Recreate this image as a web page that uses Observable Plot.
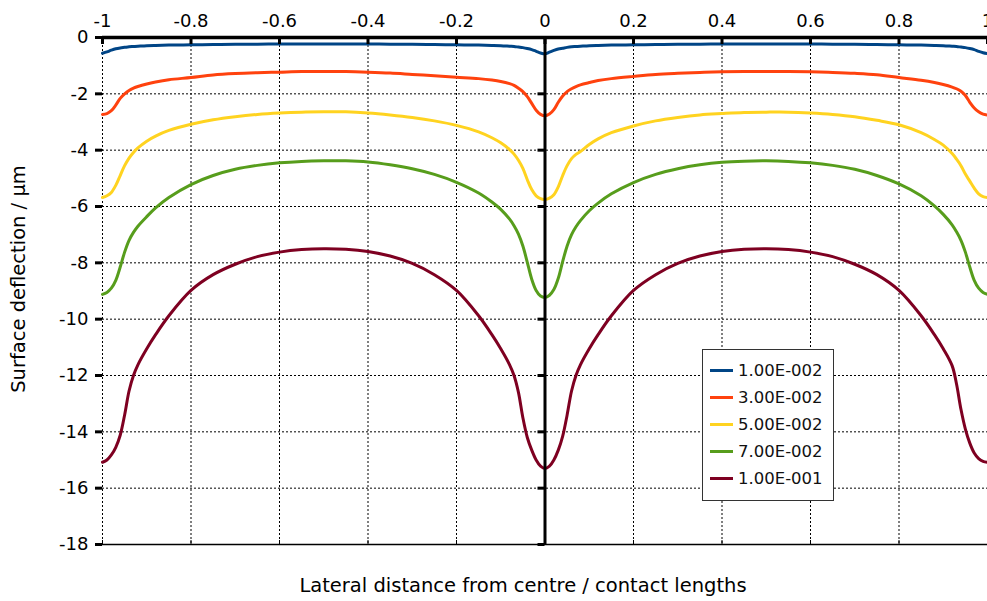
<!DOCTYPE html>
<html>
<head>
<meta charset="utf-8">
<script src="https://cdn.jsdelivr.net/npm/d3@7"></script>
<script src="https://cdn.jsdelivr.net/npm/@observablehq/plot@0.6"></script>
<style>
  body { margin: 0; background: #fff; }
  #wrap { position: relative; width: 987px; height: 601px; font-family: "DejaVu Sans", sans-serif; overflow: hidden; }
  #legend { position: absolute; left: 702px; top: 349px; width: 132px; height: 152px; box-sizing: border-box;
            border: 1.5px solid #333; background: #fff; padding-top: 7px; }
  .row { display: flex; align-items: center; height: 27px; font-size: 16.5px; color: #111; }
  .sw { width: 23px; height: 3px; margin-left: 7px; margin-right: 5px; }
</style>
</head>
<body>
<div id="wrap"></div>
<script>
// ---- data ----
const xs = [-1, -0.99, -0.98, -0.97, -0.96, -0.95, -0.94, -0.93, -0.92, -0.9, -0.88, -0.85, -0.8, -0.75, -0.7, -0.65, -0.6, -0.55, -0.5, -0.45, -0.4, -0.35, -0.3, -0.25, -0.2, -0.15, -0.12, -0.1, -0.08, -0.07, -0.06, -0.05, -0.04, -0.03, -0.02, -0.01, 0,
  0.01, 0.02, 0.03, 0.04, 0.05, 0.06, 0.07, 0.08, 0.1, 0.12, 0.15, 0.2, 0.25, 0.3, 0.35, 0.4, 0.45, 0.5, 0.55, 0.6, 0.65, 0.7, 0.75, 0.8, 0.85, 0.88, 0.9, 0.92, 0.93, 0.94, 0.95, 0.96, 0.97, 0.98, 0.99, 1];

const s1 = [-0.56, -0.51, -0.45, -0.40, -0.37, -0.35, -0.33, -0.32, -0.31, -0.29, -0.28, -0.27, -0.26, -0.25, -0.24, -0.24, -0.23, -0.23, -0.23, -0.23, -0.23, -0.24, -0.24, -0.25, -0.26, -0.27, -0.28, -0.29, -0.31, -0.32, -0.34, -0.36, -0.39, -0.43, -0.49, -0.55, -0.58,
  -0.52, -0.46, -0.41, -0.38, -0.35, -0.33, -0.32, -0.31, -0.29, -0.28, -0.27, -0.26, -0.25, -0.24, -0.24, -0.23, -0.23, -0.23, -0.23, -0.23, -0.24, -0.24, -0.25, -0.26, -0.27, -0.28, -0.29, -0.31, -0.32, -0.34, -0.36, -0.39, -0.43, -0.49, -0.54, -0.57];

const s3 = [-2.73, -2.70, -2.60, -2.40, -2.16, -2.00, -1.88, -1.80, -1.74, -1.65, -1.58, -1.50, -1.42, -1.33, -1.28, -1.25, -1.23, -1.21, -1.21, -1.21, -1.23, -1.26, -1.31, -1.36, -1.41, -1.46, -1.51, -1.56, -1.64, -1.70, -1.80, -1.92, -2.10, -2.34, -2.58, -2.73, -2.78,
  -2.72, -2.56, -2.30, -2.08, -1.92, -1.82, -1.74, -1.68, -1.60, -1.53, -1.46, -1.38, -1.31, -1.27, -1.24, -1.22, -1.21, -1.21, -1.21, -1.22, -1.24, -1.27, -1.32, -1.42, -1.52, -1.60, -1.67, -1.76, -1.82, -1.91, -2.06, -2.30, -2.50, -2.64, -2.72, -2.75];

const s5 = [-5.68, -5.62, -5.50, -5.25, -4.90, -4.55, -4.28, -4.08, -3.92, -3.68, -3.50, -3.30, -3.08, -2.92, -2.81, -2.73, -2.68, -2.65, -2.64, -2.64, -2.68, -2.75, -2.84, -2.96, -3.12, -3.35, -3.56, -3.74, -3.98, -4.14, -4.36, -4.65, -5.05, -5.40, -5.62, -5.72, -5.75,
  -5.70, -5.58, -5.30, -4.90, -4.55, -4.30, -4.15, -4.05, -3.80, -3.60, -3.38, -3.14, -2.96, -2.84, -2.75, -2.70, -2.66, -2.65, -2.65, -2.68, -2.73, -2.81, -2.94, -3.10, -3.38, -3.62, -3.82, -4.12, -4.32, -4.55, -4.85, -5.10, -5.35, -5.55, -5.65, -5.68];

const s7 = [-9.12, -9.05, -8.90, -8.62, -8.15, -7.62, -7.20, -6.92, -6.70, -6.36, -6.05, -5.68, -5.22, -4.90, -4.68, -4.54, -4.45, -4.40, -4.38, -4.38, -4.42, -4.52, -4.66, -4.86, -5.14, -5.52, -5.84, -6.10, -6.45, -6.68, -6.98, -7.40, -7.98, -8.58, -8.98, -9.18, -9.23,
  -9.15, -8.95, -8.55, -7.95, -7.40, -7.00, -6.72, -6.50, -6.15, -5.88, -5.55, -5.15, -4.86, -4.66, -4.52, -4.43, -4.39, -4.38, -4.40, -4.45, -4.54, -4.68, -4.90, -5.20, -5.62, -5.98, -6.28, -6.65, -6.90, -7.20, -7.62, -8.15, -8.62, -8.90, -9.05, -9.12];

const s10 = [-15.08, -15.00, -14.82, -14.55, -14.12, -13.40, -12.55, -12.00, -11.62, -11.05, -10.55, -9.88, -8.98, -8.42, -8.05, -7.78, -7.62, -7.53, -7.50, -7.52, -7.60, -7.76, -8.02, -8.42, -8.98, -9.88, -10.55, -11.05, -11.62, -12.00, -12.60, -13.50, -14.20, -14.65, -15.00, -15.22, -15.30,
  -15.22, -15.00, -14.65, -14.15, -13.40, -12.55, -12.00, -11.62, -11.05, -10.55, -9.88, -8.98, -8.42, -8.02, -7.76, -7.60, -7.52, -7.50, -7.53, -7.62, -7.78, -8.05, -8.42, -8.98, -9.88, -10.55, -11.05, -11.65, -12.30, -13.20, -13.90, -14.40, -14.75, -14.95, -15.05, -15.08];

const seriesNames = ["1.00E-002", "3.00E-002", "5.00E-002", "7.00E-002", "1.00E-001"];
const seriesColors = ["#004586", "#ff420e", "#ffd320", "#579d1c", "#7e0021"];
const xTicks = [-1, -0.8, -0.6, -0.4, -0.2, 0, 0.2, 0.4, 0.6, 0.8, 1];
const yTicks = [0, -2, -4, -6, -8, -10, -12, -14, -16, -18];
const xGrid = [-1, -0.8, -0.6, -0.4, -0.2, 0.2, 0.4, 0.6, 0.8];
const yGrid = [-2, -4, -6, -8, -10, -12, -14, -16];
const xTitle = "Lateral distance from centre / contact lengths";
const yTitle = "Surface deflection / µm";

// ---- build long table ----
const allSeries = [s1, s3, s5, s7, s10];
const rows = [];
allSeries.forEach((vals, i) => vals.forEach((v, j) => rows.push({x: xs[j], y: v, s: seriesNames[i]})));

const W = 987, H = 601, mT = 37, mB = 57, mL = 102, mR = 0;
const pw = W - mL - mR, ph = H - mT - mB;
const x0 = pw / 2; // position of x = 0 inside frame

const chart = Plot.plot({
  width: W, height: H,
  marginTop: mT, marginBottom: mB, marginLeft: mL, marginRight: mR,
  style: {fontFamily: "DejaVu Sans, sans-serif", fontSize: "18px", background: "#fff", color: "#000"},
  x: {domain: [-1, 1], axis: null},
  y: {domain: [-18, 0], axis: null},
  color: {domain: seriesNames, range: seriesColors},
  marks: [
    Plot.gridX(xGrid, {stroke: "#000", strokeOpacity: 1, strokeWidth: 1, strokeDasharray: "2,2"}),
    Plot.gridY(yGrid, {stroke: "#000", strokeOpacity: 1, strokeWidth: 1, strokeDasharray: "2,2"}),
    Plot.ruleY([-18], {stroke: "#000", strokeWidth: 1.5}),
    Plot.tickX(xTicks, {stroke: "#000", strokeWidth: 1, insetTop: ph - 4}),
    Plot.line(rows, {x: "x", y: "y", z: "s", stroke: "s", strokeWidth: 3, curve: "catmull-rom"}),
    Plot.ruleY([0], {stroke: "#000", strokeWidth: 3.5}),
    Plot.ruleX([0], {stroke: "#000", strokeWidth: 3}),
    Plot.tickX(xTicks, {stroke: "#000", strokeWidth: 3, insetBottom: ph - 7}),
    Plot.tickY(yTicks, {stroke: "#000", strokeWidth: 3, insetLeft: x0 - 7, insetRight: pw - x0}),
    Plot.axisY(yTicks, {anchor: "left", label: null, tickSize: 7, tickPadding: 7, strokeWidth: 3, tickFormat: d => String(d), fontSize: 18}),
    Plot.axisX(xTicks, {anchor: "top", label: null, tickSize: 0, tickPadding: 11, tickFormat: d => String(d), fontSize: 18}),
    Plot.text([xTitle], {frameAnchor: "bottom", textAnchor: "middle", lineAnchor: "middle", dx: -22, dy: 41, fontSize: 19.5, text: d => d}),
    Plot.text([yTitle], {frameAnchor: "left", textAnchor: "middle", lineAnchor: "middle", dx: -84, dy: -12, rotate: -90, fontSize: 19.5, text: d => d})
  ]
});

const wrap = document.getElementById("wrap");
wrap.appendChild(chart);

const legend = document.createElement("div");
legend.id = "legend";
seriesNames.forEach((n, i) => {
  const row = document.createElement("div");
  row.className = "row";
  const sw = document.createElement("span");
  sw.className = "sw";
  sw.style.background = seriesColors[i];
  const t = document.createElement("span");
  t.textContent = n;
  row.appendChild(sw);
  row.appendChild(t);
  legend.appendChild(row);
});
wrap.appendChild(legend);
</script>
</body>
</html>
